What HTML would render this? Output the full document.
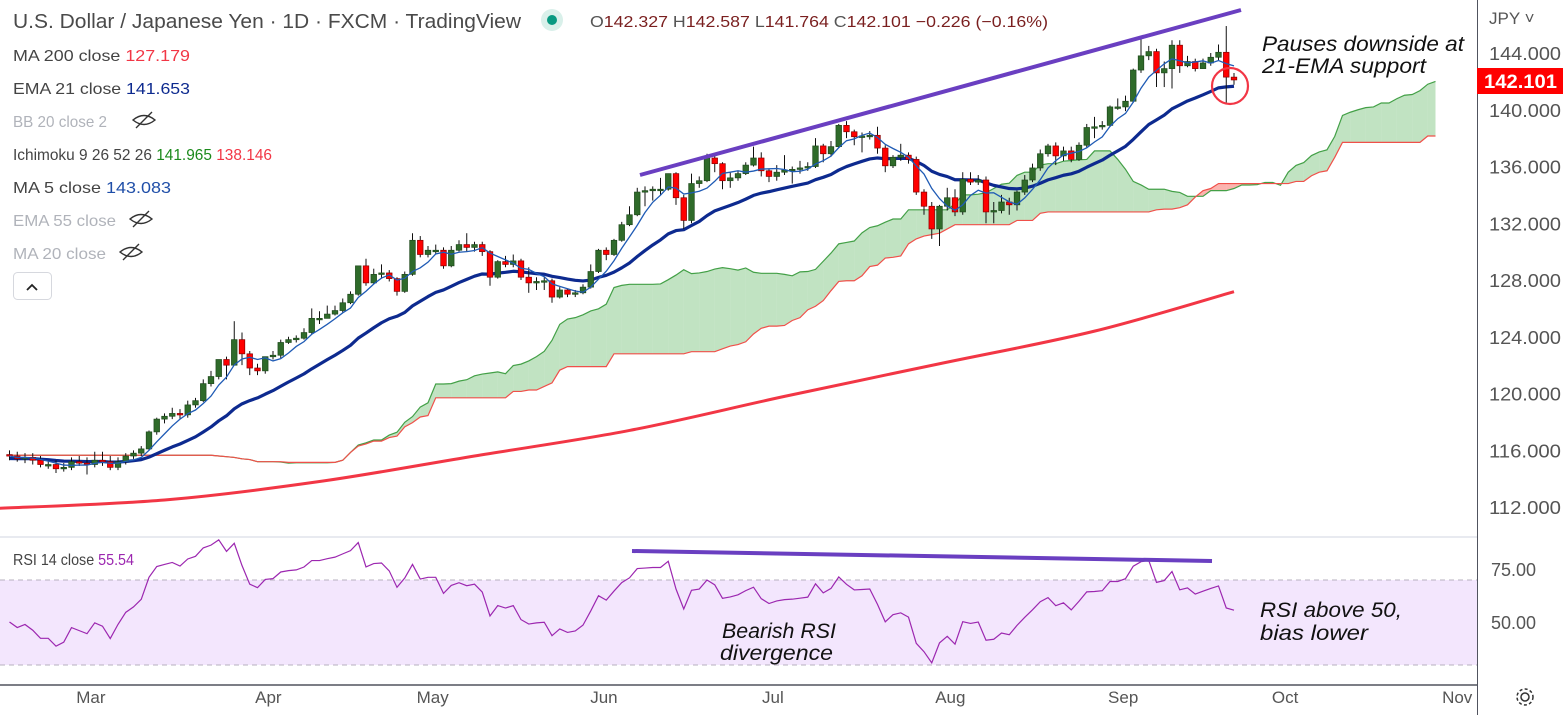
<!DOCTYPE html>
<html><head><meta charset="utf-8"><style>
html,body{margin:0;padding:0;background:#fff;}
body{width:1567px;height:715px;overflow:hidden;position:relative;font-family:"Liberation Sans",sans-serif;}
svg{position:absolute;left:0;top:0;}
</style></head><body>
<svg id="chart" width="1567" height="715" viewBox="0 0 1567 715">
  <defs>
    <clipPath id="mainClip"><rect x="0" y="0" width="1477" height="536"/></clipPath>
    <clipPath id="rsiClip"><rect x="0" y="538" width="1477" height="146"/></clipPath>
  </defs>
  <rect x="0" y="0" width="1567" height="715" fill="#fff"/>
  <g id="mainPane" clip-path="url(#mainClip)"></g>
  <line x1="0" y1="537" x2="1477" y2="537" stroke="#e0e3eb" stroke-width="1.5"/>
  <rect x="0" y="580" width="1477" height="85" fill="#f3e6fd"/>
  <line x1="0" y1="580" x2="1477" y2="580" stroke="#b7b0bf" stroke-dasharray="5,4"/>
  <line x1="0" y1="665" x2="1477" y2="665" stroke="#b7b0bf" stroke-dasharray="5,4"/>
  <g id="rsiPane" clip-path="url(#rsiClip)"></g>
  <line x1="0" y1="685" x2="1477" y2="685" stroke="#50535e" stroke-width="1.5"/>
  <line x1="1477.5" y1="0" x2="1477.5" y2="715" stroke="#50535e" stroke-width="1"/>
  <g id="timeAxis"></g>
  <g id="priceAxis"></g>

  <line x1="640" y1="175" x2="1241" y2="10" stroke="#6a3fc1" stroke-width="4"/>
  <line x1="632" y1="551" x2="1212" y2="561" stroke="#6a3fc1" stroke-width="4"/>
  <circle cx="1230" cy="86" r="18" fill="none" stroke="#f23645" stroke-width="2.2"/>
  <text x="1262" y="51" font-size="21" font-style="italic" fill="#111" textLength="202" lengthAdjust="spacingAndGlyphs">Pauses downside at</text>
  <text x="1262" y="73" font-size="21" font-style="italic" fill="#111" textLength="164" lengthAdjust="spacingAndGlyphs">21-EMA support</text>
  <text x="1260" y="617" font-size="21" font-style="italic" fill="#111" textLength="142" lengthAdjust="spacingAndGlyphs">RSI above 50,</text>
  <text x="1260" y="640" font-size="21" font-style="italic" fill="#111" textLength="108" lengthAdjust="spacingAndGlyphs">bias lower</text>
  <text x="722" y="638" font-size="21" font-style="italic" fill="#111" textLength="114" lengthAdjust="spacingAndGlyphs">Bearish RSI</text>
  <text x="720" y="660" font-size="21" font-style="italic" fill="#111" textLength="113" lengthAdjust="spacingAndGlyphs">divergence</text>

  <text x="13" y="28" font-size="20" fill="#4a4a4a" textLength="508" lengthAdjust="spacingAndGlyphs">U.S. Dollar / Japanese Yen · 1D · FXCM · TradingView</text>
  <circle cx="552" cy="20" r="11" fill="#d9f0ea"/>
  <circle cx="552" cy="20" r="5" fill="#089981"/>
  <text x="590" y="27" font-size="16" fill="#555" textLength="458" lengthAdjust="spacingAndGlyphs">O<tspan fill="#7a1f1f">142.327</tspan> H<tspan fill="#7a1f1f">142.587</tspan> L<tspan fill="#7a1f1f">141.764</tspan> C<tspan fill="#7a1f1f">142.101</tspan> <tspan fill="#7a1f1f">−0.226 (−0.16%)</tspan></text>
  <text x="13" y="61" font-size="16" fill="#444" textLength="177" lengthAdjust="spacingAndGlyphs">MA 200 close <tspan fill="#f23645">127.179</tspan></text>
  <text x="13" y="94" font-size="16" fill="#444" textLength="177" lengthAdjust="spacingAndGlyphs">EMA 21 close <tspan fill="#0d2a8f">141.653</tspan></text>
  <text x="13" y="127" font-size="16" fill="#b0b3ba" textLength="94" lengthAdjust="spacingAndGlyphs">BB 20 close 2</text>
  <text x="13" y="160" font-size="16" fill="#444" textLength="259" lengthAdjust="spacingAndGlyphs">Ichimoku 9 26 52 26 <tspan fill="#1b8a1b">141.965</tspan> <tspan fill="#f23645">138.146</tspan></text>
  <text x="13" y="193" font-size="16" fill="#444" textLength="158" lengthAdjust="spacingAndGlyphs">MA 5 close <tspan fill="#1f4ea8">143.083</tspan></text>
  <text x="13" y="226" font-size="16" fill="#b0b3ba" textLength="103" lengthAdjust="spacingAndGlyphs">EMA 55 close</text>
  <text x="13" y="259" font-size="16" fill="#b0b3ba" textLength="93" lengthAdjust="spacingAndGlyphs">MA 20 close</text>
  <g fill="none" stroke="#333" stroke-width="1.4">
    <path d="M133 120 q11-9 22 0 q-11 9-22 0 z M136 128 L152 112"/>
    <path d="M130 219 q11-9 22 0 q-11 9-22 0 z M133 227 L149 211"/>
    <path d="M120 252 q11-9 22 0 q-11 9-22 0 z M123 260 L139 244"/>
  </g>
  <rect x="13.5" y="272.5" width="38" height="27" rx="4" fill="#fff" stroke="#d6d8de"/>
  <path d="M27 290 L32 285 L37 290" fill="none" stroke="#222" stroke-width="1.8"/>
  <text x="13" y="565" font-size="16" fill="#444" textLength="121" lengthAdjust="spacingAndGlyphs">RSI 14 close <tspan fill="#9c27b0">55.54</tspan></text>

  <text x="1489" y="24" font-size="17" fill="#555">JPY ˅</text>
  <rect x="1477" y="68" width="86" height="26" fill="#f00"/>
  <text x="1484" y="88" font-size="19" font-weight="bold" fill="#fff" textLength="73" lengthAdjust="spacingAndGlyphs">142.101</text>
  <g transform="translate(1525,697)" fill="none" stroke="#333" stroke-width="1.5">
    <circle r="4"/><circle r="8" stroke-dasharray="3,2.3"/>
  </g>
</svg>
<script>
const closes=[115.6,115.4,115.5,115.3,115.0,115.0,114.7,114.8,115.2,115.1,115.0,115.3,115.2,114.8,115.2,115.6,115.8,116.1,117.3,118.2,118.4,118.6,118.5,119.2,119.5,120.7,121.2,122.4,122.0,123.8,122.8,121.8,121.6,122.6,122.7,123.6,123.8,123.9,124.3,125.3,125.3,125.6,125.85,126.4,127.0,129.0,127.8,128.4,128.5,128.1,127.2,128.4,130.8,129.8,130.1,130.1,129.0,130.1,130.5,130.3,130.5,130.0,128.2,129.3,129.1,129.35,128.2,127.8,127.9,127.95,126.8,127.3,127.0,127.1,127.5,128.6,130.1,129.8,130.8,131.9,132.6,134.2,134.3,134.4,134.4,135.5,133.8,132.2,134.8,135.0,136.6,136.2,135.0,135.2,135.5,136.1,136.6,135.7,135.3,135.6,135.75,135.8,135.9,136.0,137.45,136.9,137.4,138.9,138.45,138.1,138.15,138.2,137.3,136.05,136.65,136.8,136.5,134.2,133.2,131.6,133.2,133.8,132.8,135.1,134.9,135.05,132.8,132.9,133.5,133.3,134.2,135.05,135.9,136.9,137.45,136.75,137.1,136.5,137.5,138.75,138.8,138.9,140.2,140.2,140.6,142.8,143.8,144.1,142.6,142.9,144.55,143.1,143.4,142.9,143.3,143.7,144.05,142.3,142.101];
const highs=[116.0,115.9,115.8,115.8,115.6,115.3,115.3,115.1,115.5,115.6,115.5,115.9,115.9,115.6,115.5,115.8,116.0,116.3,117.4,118.3,118.6,119.0,118.9,119.5,119.7,121.0,121.6,122.4,122.6,125.1,124.3,123.0,122.1,122.6,123.0,123.8,124.0,124.1,124.6,126.0,125.8,126.2,126.2,126.7,127.2,129.0,129.5,128.8,129.1,128.7,128.2,128.6,131.3,131.1,130.4,130.5,130.3,130.4,130.8,131.3,130.7,130.7,130.1,129.4,129.7,129.8,129.5,128.9,128.2,128.2,128.1,127.5,127.4,127.3,127.7,129.1,130.2,130.3,130.9,132.1,133.2,134.5,134.6,134.6,135.2,135.5,135.6,134.0,135.5,135.3,136.9,136.8,136.3,135.6,135.7,136.3,137.4,137.0,135.8,136.1,136.8,136.0,136.4,136.3,138.0,137.6,137.8,139.0,139.2,138.6,138.4,138.5,138.8,137.5,136.8,137.6,137.0,136.7,134.4,133.5,133.3,134.5,134.4,135.6,135.6,135.4,135.3,133.5,134.0,133.8,134.3,135.4,136.2,137.2,137.6,137.7,137.4,137.4,137.7,139.0,139.5,139.2,140.3,140.8,141.0,142.9,145.0,144.5,144.3,143.4,144.9,144.9,143.8,143.6,143.6,144.0,144.6,145.9,142.587];
const lows=[115.3,115.2,115.1,115.0,114.8,114.7,114.4,114.5,114.6,114.9,114.3,114.8,114.9,114.6,114.6,115.0,115.4,115.6,116.0,117.1,117.9,118.2,118.2,118.3,119.0,119.4,120.5,121.0,121.0,122.0,122.0,121.3,121.3,121.4,122.4,122.5,123.5,123.6,123.8,124.2,124.9,125.3,125.5,125.7,126.3,126.9,127.6,127.7,128.1,127.9,126.9,127.1,128.3,129.6,129.6,129.8,128.8,128.9,130.0,130.0,130.0,129.7,127.6,128.1,128.9,128.9,128.0,127.1,127.3,127.3,126.4,126.7,126.8,126.8,127.0,127.4,128.5,129.4,129.7,130.7,131.8,132.5,133.2,133.6,134.0,134.3,133.3,131.6,132.0,134.5,134.9,135.6,134.4,134.5,135.0,135.4,136.0,135.3,134.9,135.0,135.4,134.8,135.5,135.7,135.9,136.3,136.7,137.3,138.0,137.5,137.0,137.9,136.9,135.6,135.9,136.4,136.2,134.0,132.6,130.9,130.4,132.9,132.5,132.6,134.7,134.7,132.0,132.0,132.7,132.6,132.9,134.0,134.9,135.7,136.7,136.1,136.4,136.3,136.4,137.3,138.0,138.6,138.8,140.0,139.9,140.5,142.6,143.5,141.6,141.6,141.5,142.6,143.0,142.7,142.9,143.1,143.5,140.5,141.764];
const ma200Bars=[-2,20,40,60,80,100,120,140,158];
const ma200Vals=[111.9,112.5,113.8,115.6,117.4,119.8,122.1,124.4,127.18];
const priceTicks=[144,140,136,132,128,124,120,116,112];
const rsiTicks=[75,50];
const monthLabels=["Mar","Apr","May","Jun","Jul","Aug","Sep","Oct","Nov"];
const monthBars=[10.5,33.4,54.6,76.7,98.5,121.4,143.7,164.6,186.8];
const firstOpen=115.7;

const NS="http://www.w3.org/2000/svg";
const xOf=i=>9.5+i*7.75;
const yP=p=>53+(144-p)*14.19;
const yR=r=>569+(75-r)*2.12;
function mk(tag,attrs,parent){const e=document.createElementNS(NS,tag);for(const k in attrs)e.setAttribute(k,attrs[k]);parent.appendChild(e);return e;}
const main=document.getElementById('mainPane');
const rsiG=document.getElementById('rsiPane');
const N=closes.length;
const opens=closes.map((c,i)=>i===0?firstOpen:closes[i-1]);

function mid(a,b){let h=-1e9,l=1e9;a=Math.max(0,a);for(let k=a;k<=b;k++){h=Math.max(h,highs[k]);l=Math.min(l,lows[k]);}return (h+l)/2;}
const spanA=[],spanB=[];
for(let i=0;i<N+26;i++){const s=Math.max(0,i-26);spanA.push((mid(s-8,s)+mid(s-25,s))/2);spanB.push(mid(s-51,s));}
const cloud=mk('g',{},main);


for(let i=0;i<spanA.length-1;i++){
  const x1=xOf(i),x2=xOf(i+1);
  const bull=(spanA[i]+spanA[i+1])>=(spanB[i]+spanB[i+1]);
  const q=mk('polygon',{points:`${x1},${yP(spanA[i])} ${x2},${yP(spanA[i+1])} ${x2},${yP(spanB[i+1])} ${x1},${yP(spanB[i])}`,fill:bull?'rgba(76,175,80,0.35)':'rgba(244,67,54,0.4)',stroke:'none'},cloud);
  
  
}
const la=mk('polyline',{points:spanA.map((v,i)=>xOf(i)+','+yP(v)).join(' '),fill:'none',stroke:'#43a047','stroke-width':1.2},main);


const lb=mk('polyline',{points:spanB.map((v,i)=>xOf(i)+','+yP(v)).join(' '),fill:'none',stroke:'#f0504a','stroke-width':1.2},main);



// MA200 smooth (Catmull-Rom)
const pts=ma200Bars.map((b,k)=>[xOf(b),yP(ma200Vals[k])]);
let d=`M${pts[0][0]},${pts[0][1]}`;
for(let k=0;k<pts.length-1;k++){
  const p0=pts[Math.max(0,k-1)],p1=pts[k],p2=pts[k+1],p3=pts[Math.min(pts.length-1,k+2)];
  const c1=[p1[0]+(p2[0]-p0[0])/6,p1[1]+(p2[1]-p0[1])/6],c2=[p2[0]-(p3[0]-p1[0])/6,p2[1]-(p3[1]-p1[1])/6];
  d+=` C${c1[0]},${c1[1]} ${c2[0]},${c2[1]} ${p2[0]},${p2[1]}`;
}
const ma200=mk('path',{d:d,fill:'none',stroke:'#f23645','stroke-width':3},main);



const ema=[];let e=closes[0]-0.2;const al=2/22;
closes.forEach(c=>{e=e+al*(c-e);ema.push(e);});
const ma5=closes.map((c,i)=>{const s=Math.max(0,i-4);let t=0;for(let k=s;k<=i;k++)t+=closes[k];return t/(i-s+1);});
const emaL=mk('polyline',{points:ema.map((v,i)=>xOf(i)+','+yP(v)).join(' '),fill:'none',stroke:'#0d2a8f','stroke-width':3.2,'stroke-linejoin':'round'},main);



const cg=mk('g',{},main);


for(let i=0;i<N;i++){
  const x=xOf(i),o=opens[i],c=closes[i],up=c>=o;
  const w=mk('line',{x1:x,x2:x,y1:yP(highs[i]),y2:yP(lows[i]),stroke:'#111','stroke-width':1},cg);
  
  
  const top=yP(Math.max(o,c)),bot=yP(Math.min(o,c));
  const b=mk('rect',{x:x-2.8,y:top,width:5.6,height:Math.max(1.5,bot-top),fill:up?'#2f6b2a':'#ff0000',stroke:up?'#1f4a1c':'#8b0000','stroke-width':0.7},cg);
  
  
}
const ma5L=mk('polyline',{points:ma5.map((v,i)=>xOf(i)+','+yP(v)).join(' '),fill:'none',stroke:'#1f5bb5','stroke-width':1.3},main);



const rsi=[];let ag=0.15,alv=0.15;
for(let i=0;i<N;i++){const ch=i===0?0:closes[i]-closes[i-1];ag=(ag*13+Math.max(ch,0))/14;alv=(alv*13+Math.max(-ch,0))/14;rsi.push(100-100/(1+ag/alv));}
const rl=mk('polyline',{points:rsi.map((v,i)=>xOf(i)+','+yR(v)).join(' '),fill:'none',stroke:'#9c27b0','stroke-width':1.2},rsiG);



const pa=document.getElementById('priceAxis');
priceTicks.forEach(p=>{const t=mk('text',{x:1489,y:yP(p)+7,'font-size':18,fill:'#555',textLength:72,lengthAdjust:'spacingAndGlyphs'},pa);t.textContent=p.toFixed(3);
  
  });
rsiTicks.forEach(r=>{const t=mk('text',{x:1491,y:yR(r)+7,'font-size':18,fill:'#555'},pa);t.textContent=r.toFixed(2);
  
  });
const ta=document.getElementById('timeAxis');
monthLabels.forEach((m,k)=>{const t=mk('text',{x:xOf(monthBars[k]),y:703,'font-size':17,fill:'#555','text-anchor':'middle'},ta);t.textContent=m;
  
  });
</script>
</body></html>
